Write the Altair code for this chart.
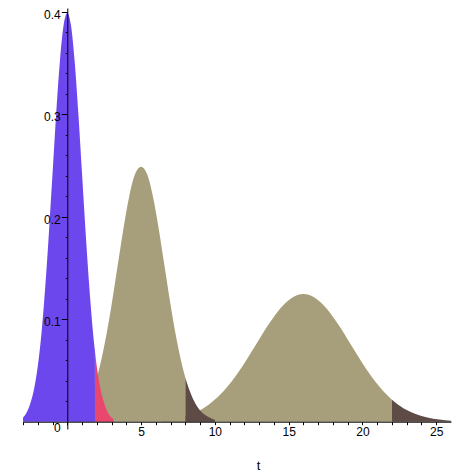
import altair as alt
import pandas as pd

# ---- data ----
# curve 1 (centre 0)
t1 = [-3.0, -2.75, -2.5, -2.25, -2.0, -1.75, -1.5, -1.25, -1.0, -0.75, -0.5, -0.25, 0.0,
      0.25, 0.5, 0.75, 1.0, 1.25, 1.5, 1.75, 1.875, 2.0, 2.25, 2.5, 2.75, 3.0, 3.125]
y1 = [0.004, 0.009, 0.018, 0.032, 0.054, 0.086, 0.130, 0.183, 0.242, 0.301, 0.352, 0.387, 0.399,
      0.387, 0.352, 0.301, 0.242, 0.183, 0.130, 0.086, 0.069, 0.054, 0.032, 0.018, 0.009, 0.004, 0.003]
cut1 = 1.875

# curve 2 (centre 5)
t2 = [0.2, 0.6, 1.0, 1.4, 1.8, 2.2, 2.6, 3.0, 3.4, 3.8, 4.2, 4.6, 5.0,
      5.4, 5.8, 6.2, 6.6, 7.0, 7.4, 7.8, 8.0, 8.2, 8.6, 9.0, 9.4, 9.8, 10.0]
y2 = [0.003, 0.006, 0.011, 0.020, 0.034, 0.054, 0.081, 0.114, 0.151, 0.188, 0.220, 0.242, 0.249,
      0.242, 0.220, 0.188, 0.151, 0.114, 0.081, 0.054, 0.043, 0.034, 0.020, 0.011, 0.006, 0.003, 0.002]
cut2 = 8.0

# curve 3 (centre 16)
t3 = [6.4, 7.2, 8.0, 8.8, 9.6, 10.4, 11.2, 12.0, 12.8, 13.6, 14.4, 15.2, 16.0,
      16.8, 17.6, 18.4, 19.2, 20.0, 20.8, 21.6, 22.0, 22.4, 23.2, 24.0, 24.8, 25.6, 26.0]
y3 = [0.0014, 0.0028, 0.0055, 0.0099, 0.0169, 0.0270, 0.0405, 0.0571, 0.0756, 0.0941, 0.1100, 0.1208, 0.1247,
      0.1208, 0.1100, 0.0941, 0.0756, 0.0571, 0.0405, 0.0270, 0.0215, 0.0169, 0.0099, 0.0055, 0.0028, 0.0014, 0.0010]
cut3 = 22.0

x_ticks = list(range(-3, 26))
y_ticks = [0.02, 0.04, 0.06, 0.08, 0.10, 0.12, 0.14, 0.16, 0.18, 0.20,
           0.22, 0.24, 0.26, 0.28, 0.30, 0.32, 0.34, 0.36, 0.38, 0.40]
origin_label = ["0"]
origin_t = [0]
origin_y = [0]

# colours
c_blue, c_red, c_khaki, c_brown = "#6C47ED", "#E9476E", "#A79E7B", "#5E4B45"


def part(ts, ys, lo, hi):
    return pd.DataFrame({"t": [t for t in ts if lo <= t <= hi],
                         "y": [y for t, y in zip(ts, ys) if lo <= t <= hi]})


regions = [
    (part(t3, y3, -99, cut3), c_khaki),
    (part(t3, y3, cut3, 99), c_brown),
    (part(t2, y2, -99, cut2), c_khaki),
    (part(t2, y2, cut2, 99), c_brown),
    (part(t1, y1, -99, cut1), c_blue),
    (part(t1, y1, cut1, 99), c_red),
]

FONT = "Liberation Sans"
major = "round(datum.value*100) % 10 == 0"

xaxis = alt.Axis(
    values=x_ticks,
    labelExpr="(datum.value % 5 == 0 && datum.value != 0) ? datum.label : ''",
    tickSize=3, labelPadding=2, offset=-7.3, zindex=1,
    domainColor="black", tickColor="black", labelColor="black",
    labelFont=FONT, labelFontSize=12, grid=False,
    labelFlush=False, labelOverlap=False,
    title="t", titleX=235, titleY=44, titleBaseline="middle", titleAngle=0,
    titleFont=FONT, titleFontSize=13, titleFontWeight="normal", titleColor="black",
)
yaxis = alt.Axis(
    values=y_ticks,
    labelExpr=f"({major}) ? format(datum.value, '.1f') : ''",
    tickSize={"condition": {"test": major, "value": 6}, "value": 2},
    labelPadding=1, labelOffset=2.5, offset=-44.3, zindex=1,
    domainColor="black", tickColor="black", labelColor="black",
    labelFont=FONT, labelFontSize=12, grid=False,
    labelFlush=False, labelOverlap=False, title=None,
)

X = alt.X("t:Q", scale=alt.Scale(domain=[-3, 26], nice=False, zero=False), axis=xaxis)
Y = alt.Y("y:Q", scale=alt.Scale(domain=[-0.0071, 0.4039], nice=False, zero=False),
          axis=yaxis, stack=None)

layers = [
    alt.Chart(df).mark_area(color=c, opacity=1, interpolate="monotone").encode(x=X, y=Y)
    for df, c in regions
]

zero_lab = alt.Chart(pd.DataFrame({"t": origin_t, "y": origin_y, "lab": origin_label})).mark_text(
    font=FONT, fontSize=12, color="black", baseline="middle", align="center", dx=-10, dy=6.5
).encode(x=X, y=Y, text="lab:N")

chart = alt.layer(*layers, zero_lab).properties(
    width=428, height=421,
    autosize=alt.AutoSizeParams(type="none"),
    padding={"left": 15, "top": 0, "right": 8, "bottom": 44},
).configure_view(stroke=None)

chart.save("out.html", embed_options={"renderer": "svg", "actions": False})
